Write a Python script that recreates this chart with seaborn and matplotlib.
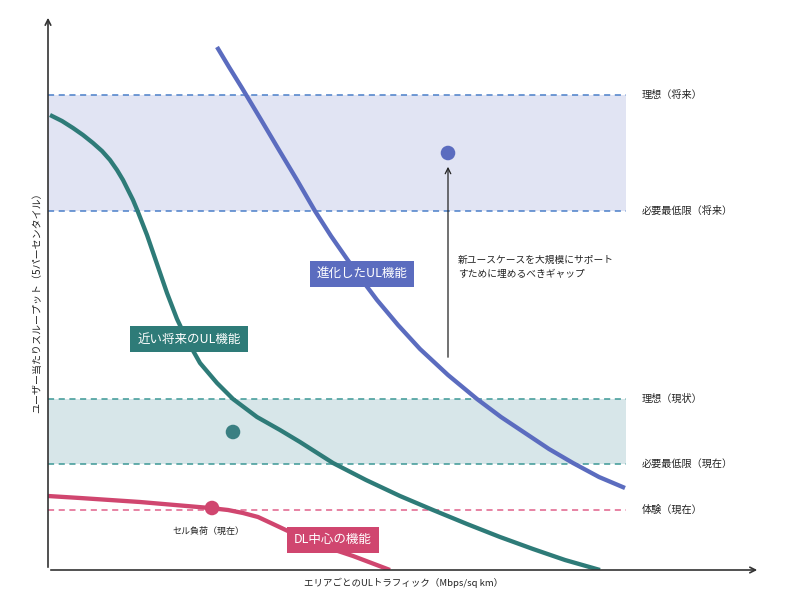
import numpy as np
import matplotlib
matplotlib.use("Agg")
import matplotlib.pyplot as plt
import seaborn as sns

# curves (x: UL traffic, y: throughput)
blue_x = [169, 181, 194, 212, 231, 249, 267, 283, 299, 314, 329, 350, 372, 400, 429, 453, 477, 501, 525, 551, 577]
blue_y = [523, 503, 482, 452, 420, 390, 359, 334, 311, 290, 270, 245, 221, 195, 171, 153, 137, 121, 107, 93, 82]

teal_x = [2, 14, 25, 35, 45, 54, 62, 69, 75, 80, 85, 90, 99, 109, 119, 129, 139, 152, 169, 185, 209, 232, 252, 285, 318, 352, 385, 419, 452, 485, 517, 552]
teal_y = [455, 449, 442, 435, 427, 419, 410, 400, 390, 380, 370, 358, 335, 306, 277, 251, 230, 207, 187, 171, 153, 140, 128, 107, 90, 74, 60, 46, 33, 21, 10, 0]

pink_x = [0, 32, 62, 92, 127, 162, 180, 195, 210, 225, 242, 272, 305, 342]
pink_y = [74, 72, 70, 68, 65, 62, 60, 57, 53, 46, 38, 25, 14, 0]

# dots
dot_x = [400, 185, 164]
dot_y = [417, 138, 62]

# reference levels
level_names = ["理想（将来）", "必要最低限（将来）", "理想（現状）", "必要最低限（現在）", "体験（現在）"]
level_y = [475, 359, 171, 106, 60]
level_end = 578

c_blue = "#5b6cbf"
c_teal = "#2e7b78"
c_pink = "#d0466f"

sns.set_style("white")
plt.rcParams["font.family"] = ["Noto Sans CJK JP", "DejaVu Sans"]

fig = plt.figure(figsize=(7.88, 6.04), dpi=100)
ax = fig.add_axes([48 / 788, 34 / 604, 712 / 788, 555 / 604])
ax.set_xlim(0, 712)
ax.set_ylim(0, 555)

# shaded bands
ax.fill_between([0, level_end], level_y[1], level_y[0], color="#e1e4f3", lw=0, zorder=0)
ax.fill_between([0, level_end], level_y[3], level_y[2], color="#d7e6e9", lw=0, zorder=0)

dash_cols = ["#4a7fc9", "#4a7fc9", "#3c9896", "#3c9896", "#e0608a"]
for name, yv, col in zip(level_names, level_y, dash_cols):
    ax.plot([0, level_end], [yv, yv], ls=(0, (4, 3)), color=col, lw=1.1, zorder=1)
    ax.text(594, yv, name, fontsize=7.3, va="center", ha="left", color="#222222")

line_kw = dict(sort=False, estimator=None, lw=3.1, ax=ax, zorder=3,
               solid_joinstyle="round", solid_capstyle="butt")
sns.lineplot(x=blue_x, y=blue_y, color=c_blue, **line_kw)
sns.lineplot(x=teal_x, y=teal_y, color=c_teal, **line_kw)
sns.lineplot(x=pink_x, y=pink_y, color=c_pink, **line_kw)

sns.scatterplot(x=dot_x, y=dot_y, hue=["b", "t", "p"], palette=[c_blue, "#3a7f82", c_pink],
                s=110, edgecolor="none", legend=False, ax=ax, zorder=4)

# curve labels
box_kw = dict(fontsize=9, color="white", ha="center", va="center", zorder=5)
ax.text(314, 296, "進化したUL機能", bbox=dict(boxstyle="square,pad=0.55", fc=c_blue, ec="none"), **box_kw)
ax.text(141, 231, "近い将来のUL機能", bbox=dict(boxstyle="square,pad=0.55", fc=c_teal, ec="none"), **box_kw)
ax.text(285, 30, "DL中心の機能", bbox=dict(boxstyle="square,pad=0.55", fc=c_pink, ec="none"), **box_kw)

ax.text(160, 39, "セル負荷（現在）", fontsize=6.5, ha="center", va="center", color="#222222")

# gap arrow
ax.annotate("", xy=(400, 406), xytext=(400, 210),
            arrowprops=dict(arrowstyle="->", color="#222222", lw=0.9))
ax.text(410, 303, "新ユースケースを大規模にサポート\nすために埋めるべきギャップ",
        fontsize=7, ha="left", va="center", linespacing=1.5, color="#222222")

# axes with arrows
for s in ax.spines.values():
    s.set_visible(False)
ax.set_xticks([])
ax.set_yticks([])
ax.annotate("", xy=(0, 1), xytext=(0, 0), xycoords="axes fraction",
            arrowprops=dict(arrowstyle="->", color="#333333", lw=1.2))
ax.annotate("", xy=(1, 0), xytext=(0, 0), xycoords="axes fraction",
            arrowprops=dict(arrowstyle="->", color="#333333", lw=1.2))

ax.text(356, -13, "エリアごとのULトラフィック（Mbps/sq km）", fontsize=6.8, ha="center", va="center", color="#222222")
ax.text(-11, 270, "ユーザー当たりスループット（5パーセンタイル）", fontsize=7.2, ha="center", va="center",
        rotation=90, color="#222222")

fig.savefig("out.png", dpi=100)
